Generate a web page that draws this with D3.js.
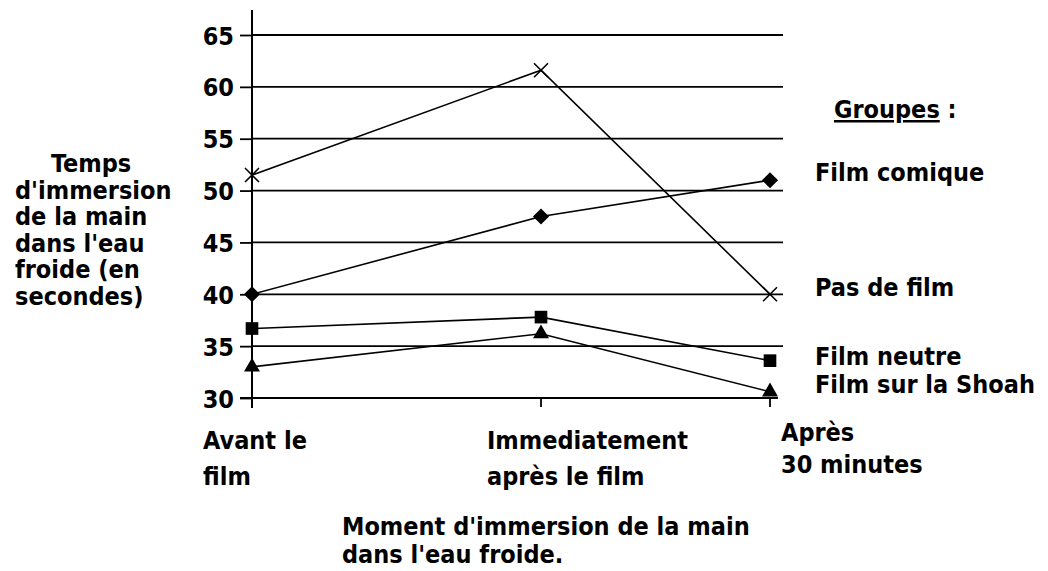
<!DOCTYPE html>
<html>
<head>
<meta charset="utf-8">
<title>Temps d'immersion</title>
<style>
	body { margin: 0; background: #fff; }
	svg text { font-family: "DejaVu Sans Condensed", "Liberation Sans Narrow", sans-serif; font-weight: bold; font-size: 25px; fill: #000; }
</style>
</head>
<body>
<svg width="1048" height="571"></svg>
<script src="https://cdn.jsdelivr.net/npm/d3@7"></script>
<script>
	// données
	const moments = ["Avant le film", "Immediatement après le film", "Après 30 minutes"]
	const momentLines = [["Avant le", "film"], ["Immediatement", "après le film"], ["Après", "30 minutes"]]
	const groupes = ["Pas de film", "Film comique", "Film neutre", "Film sur la Shoah"]
	const pasDeFilm = [51.5, 61.6, 40]
	const filmComique = [40, 47.5, 51]
	const filmNeutre = [36.7, 37.8, 33.6]
	const filmShoah = [33, 36.2, 30.6]
	const yTicks = [30, 35, 40, 45, 50, 55, 60, 65]
	const yTitle = ["Temps", "d'immersion", "de la main", "dans l'eau", "froide (en", "secondes)"]
	const xTitle = ["Moment d'immersion de la main", "dans l'eau froide."]

	const series = [
		{ name: groupes[0], values: pasDeFilm, sym: "cross", labelDy: -7 },
		{ name: groupes[1], values: filmComique, sym: "diamond", labelDy: -8 },
		{ name: groupes[2], values: filmNeutre, sym: "square", labelDy: -5 },
		{ name: groupes[3], values: filmShoah, sym: "triangle", labelDy: -8 }
	]

	const svg = d3.select("svg")
	// positions des catégories (espacement inégal comme dans l'original)
	const x = d3.scaleOrdinal().domain(moments).range([252, 541, 770])
	const y = d3.scaleLinear().domain([30, 65]).range([398, 35])

	// grille horizontale
	svg.append("g").selectAll("line")
		.data(yTicks.slice(1))
		.join("line")
		.attr("x1", 252).attr("x2", 783)
		.attr("y1", d => y(d)).attr("y2", d => y(d))
		.attr("stroke", "#000").attr("stroke-width", 1.8)

	// axe vertical
	const gy = svg.append("g").attr("transform", "translate(252,0)")
		.call(d3.axisLeft(y).tickValues(yTicks).tickSize(12).tickPadding(6))
	gy.select(".domain").remove()
	gy.selectAll(".tick line").attr("stroke", "#000").attr("stroke-width", 1.8)
	gy.selectAll(".tick text").attr("font-family", null).attr("dy", "0.36em")
	svg.append("line").attr("x1", 252).attr("x2", 252).attr("y1", 10).attr("y2", 408)
		.attr("stroke", "#000").attr("stroke-width", 2)

	// axe horizontal
	const gx = svg.append("g").attr("transform", "translate(0,398)")
	gx.selectAll("line").data(moments).join("line")
		.attr("x1", d => x(d)).attr("x2", d => x(d))
		.attr("y1", 0).attr("y2", 9)
		.attr("stroke", "#000").attr("stroke-width", 1.8)
	svg.append("line").attr("x1", 240).attr("x2", 778).attr("y1", 398).attr("y2", 398)
		.attr("stroke", "#000").attr("stroke-width", 1.8)

	// étiquettes des catégories
	const labelX = [203, 487, 781]
	const labelY = [[449, 485], [449, 485], [441, 473]]
	momentLines.forEach((lines, i) => {
		lines.forEach((t, j) => {
			svg.append("text").attr("x", labelX[i]).attr("y", labelY[i][j]).text(t)
		})
	})

	// titres des axes
	yTitle.forEach((t, i) => {
		svg.append("text").attr("x", i === 0 ? 51 : 15).attr("y", 172 + i * 26.5).text(t)
	})
	xTitle.forEach((t, i) => {
		svg.append("text").attr("x", 342).attr("y", 535 + i * 28).text(t)
	})

	// courbes
	const line = d3.line().x((d, i) => x(moments[i])).y(d => y(d))
	const symbols = {
		diamond: d3.symbol().type(d3.symbolSquare).size(130),
		square: d3.symbol().type(d3.symbolSquare).size(160),
		triangle: d3.symbol().type(d3.symbolTriangle).size(110)
	}
	series.forEach(s => {
		svg.append("path").attr("d", line(s.values))
			.attr("fill", "none").attr("stroke", "#000").attr("stroke-width", 1.6)
		const g = svg.append("g")
		s.values.forEach((v, i) => {
			const px = x(moments[i]), py = y(v)
			if (s.sym === "cross") {
				const r = 7
				g.append("path").attr("d", `M${px - r},${py - r}L${px + r},${py + r}M${px - r},${py + r}L${px + r},${py - r}`)
					.attr("stroke", "#000").attr("stroke-width", 1.6)
			} else {
				g.append("path").attr("d", symbols[s.sym]())
					.attr("transform", `translate(${px},${py})` + (s.sym === "diamond" ? " rotate(45)" : ""))
					.attr("fill", "#000")
			}
		})
		// légende au bout de la ligne
		svg.append("text").attr("x", 815).attr("y", y(s.values[2]) + 9 + s.labelDy).text(s.name)
	})

	// titre de légende
	const gt = svg.append("text").attr("x", 834).attr("y", 118)
	gt.append("tspan").attr("text-decoration", "underline").text("Groupes")
	gt.append("tspan").text(" :")
</script>
</body>
</html>
